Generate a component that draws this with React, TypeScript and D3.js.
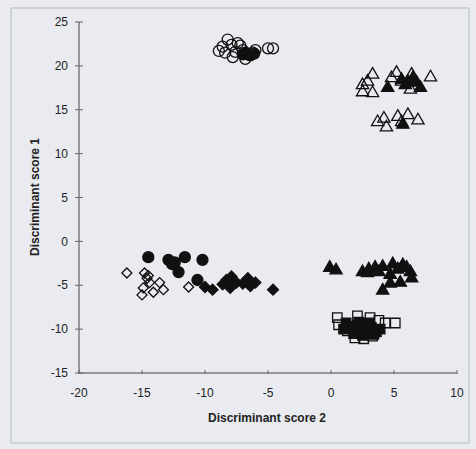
import { useEffect, useRef } from 'react';
import * as d3 from 'd3';

// [score2, score1] pairs per group
const openCircles = [
  [-8.6, 22.2], [-8.2, 23.0], [-7.9, 22.4], [-7.6, 21.6], [-7.8, 21.0], [-8.4, 21.5],
  [-7.2, 22.3], [-7.0, 21.8], [-6.6, 21.3], [-6.8, 20.8], [-6.2, 21.5], [-6.0, 21.8],
  [-5.0, 22.0], [-4.6, 22.0], [-7.4, 22.6], [-8.9, 21.7],
];
const filledCircles = [
  [-6.8, 21.5], [-6.4, 21.2], [-6.1, 21.4], [-7.0, 21.3],
  [-14.5, -1.8], [-12.9, -2.1], [-12.4, -2.4], [-11.6, -1.8], [-12.1, -3.5],
  [-10.2, -2.1], [-10.6, -4.4], [-12.6, -2.6],
];
const openTriangles = [
  [2.5, 17.8], [3.3, 19.0], [2.5, 17.0], [3.3, 16.9], [5.2, 19.2], [6.4, 19.0],
  [7.9, 18.7], [6.3, 17.3], [5.6, 18.2], [2.9, 18.2], [4.8, 18.6],
  [3.7, 13.6], [4.4, 13.0], [5.3, 14.2], [6.1, 14.4], [6.9, 13.8], [5.6, 13.6], [4.2, 14.0],
];
const filledTriangles = [
  [4.5, 17.5], [5.6, 18.4], [6.1, 18.2], [6.8, 18.1], [7.1, 17.5], [6.5, 18.6], [5.9, 17.8],
  [5.7, 13.3],
  [-0.1, -3.0], [0.4, -3.3], [2.5, -3.5], [3.0, -3.2], [3.5, -3.0], [4.1, -2.9], [4.9, -2.6],
  [5.7, -2.7], [6.3, -3.5], [4.7, -3.8], [4.1, -5.6], [4.7, -4.8], [5.5, -4.7], [6.4, -4.2],
  [2.9, -3.6], [5.3, -3.2], [3.8, -3.5], [6.0, -3.0],
];
const openDiamonds = [
  [-16.2, -3.6], [-14.8, -3.6], [-14.5, -3.9], [-14.4, -4.7], [-14.9, -5.3], [-15.0, -6.1],
  [-14.1, -5.8], [-13.6, -4.7], [-13.3, -5.5], [-11.3, -5.2], [-14.6, -4.2],
];
const filledDiamonds = [
  [-10.0, -5.2], [-9.4, -5.5], [-8.3, -4.4], [-7.9, -4.0], [-7.5, -4.7], [-6.6, -4.2],
  [-6.0, -4.7], [-8.0, -5.3], [-4.6, -5.5], [-7.0, -4.8], [-8.6, -4.9], [-6.4, -5.1],
];
const openSquares = [
  [0.5, -8.7], [0.6, -9.5], [2.1, -8.5], [3.1, -8.7], [1.9, -11.0], [3.3, -10.8],
  [4.3, -9.3], [5.1, -9.3], [1.3, -10.2], [3.8, -9.0], [2.6, -11.1],
];
const filledSquares = [
  [1.2, -9.3], [1.6, -9.7], [2.0, -9.9], [2.4, -9.5], [2.8, -10.2], [3.2, -9.8], [3.6, -10.3],
  [1.8, -10.5], [2.5, -10.7], [3.0, -9.3], [3.9, -10.0], [1.0, -10.0], [2.2, -9.2], [3.4, -10.6],
];

const xTicks = [-20, -15, -10, -5, 0, 5, 10];
const yTicks = [-15, -10, -5, 0, 5, 10, 15, 20, 25];

export default function App() {
  const ref = useRef<HTMLDivElement>(null);

  useEffect(() => {
    const el = ref.current;
    if (!el) return;
    el.innerHTML = '';

    const w = 476;
    const h = 449;
    const bg = '#e9ebf1';
    const font = 'Arial, "Liberation Sans", sans-serif';

    const svg = d3.select(el)
      .append('svg')
      .attr('width', w)
      .attr('height', h)
      .style('position', 'absolute')
      .style('left', 0)
      .style('top', 0)
      .style('font-family', font);

    svg.append('rect').attr('width', w).attr('height', h).attr('fill', bg);
    svg.append('rect')
      .attr('x', 11).attr('y', 8).attr('width', 458).attr('height', 435)
      .attr('fill', 'none').attr('stroke', '#b5b8c0').attr('stroke-width', 1);

    const x = d3.scaleLinear().domain([-20, 10]).range([79, 457]);
    const y = d3.scaleLinear().domain([-15, 25]).range([373, 22]);

    // axes
    svg.append('line')
      .attr('x1', x(-20)).attr('x2', x(-20)).attr('y1', y(25)).attr('y2', y(-15))
      .attr('stroke', '#444').attr('stroke-width', 1);
    svg.append('line')
      .attr('x1', x(-20)).attr('x2', x(10)).attr('y1', y(-15)).attr('y2', y(-15))
      .attr('stroke', '#444').attr('stroke-width', 1);

    svg.selectAll('.ytick').data(yTicks).enter().append('line')
      .attr('x1', x(-20) - 4).attr('x2', x(-20) + 4)
      .attr('y1', d => y(d)).attr('y2', d => y(d))
      .attr('stroke', '#666');
    svg.selectAll('.ylab').data(yTicks).enter().append('text')
      .attr('x', 68).attr('y', d => y(d)).attr('dy', '0.35em')
      .attr('text-anchor', 'end').attr('font-size', 12).attr('fill', '#222')
      .text(d => d);

    svg.selectAll('.xtick').data(xTicks).enter().append('line')
      .attr('x1', d => x(d)).attr('x2', d => x(d))
      .attr('y1', y(-15) - 3).attr('y2', y(-15) + 1)
      .attr('stroke', '#666');
    svg.selectAll('.xlab').data(xTicks).enter().append('text')
      .attr('x', d => x(d)).attr('y', 397)
      .attr('text-anchor', 'middle').attr('font-size', 12).attr('fill', '#222')
      .text(d => d);

    svg.append('text')
      .attr('x', 267).attr('y', 422)
      .attr('text-anchor', 'middle').attr('font-size', 12).attr('font-weight', 'bold')
      .attr('fill', '#222').text('Discriminant score 2');
    svg.append('text')
      .attr('transform', `translate(39,197) rotate(-90)`)
      .attr('text-anchor', 'middle').attr('font-size', 12).attr('font-weight', 'bold')
      .attr('fill', '#222').text('Discriminant score 1');

    // series
    const groups = [
      { data: filledDiamonds, type: d3.symbolSquare, size: 60, rot: 45, filled: true },
      { data: openDiamonds, type: d3.symbolSquare, size: 50, rot: 45, filled: false },
      { data: filledCircles, type: d3.symbolCircle, size: 95, rot: 0, filled: true },
      { data: openCircles, type: d3.symbolCircle, size: 95, rot: 0, filled: false },
      { data: filledTriangles, type: d3.symbolTriangle, size: 65, rot: 0, filled: true },
      { data: openTriangles, type: d3.symbolTriangle, size: 65, rot: 0, filled: false },
      { data: filledSquares, type: d3.symbolSquare, size: 90, rot: 0, filled: true },
      { data: openSquares, type: d3.symbolSquare, size: 90, rot: 0, filled: false },
    ];

    groups.forEach(gr => {
      const sym = d3.symbol().type(gr.type).size(gr.size);
      svg.append('g').selectAll('path').data(gr.data).enter().append('path')
        .attr('d', sym)
        .attr('transform', d => `translate(${x(d[0])},${y(d[1])}) rotate(${gr.rot})`)
        .attr('fill', gr.filled ? '#111' : 'none')
        .attr('stroke', '#111')
        .attr('stroke-width', 1.3);
    });
  }, []);

  return <div ref={ref} />;
}
